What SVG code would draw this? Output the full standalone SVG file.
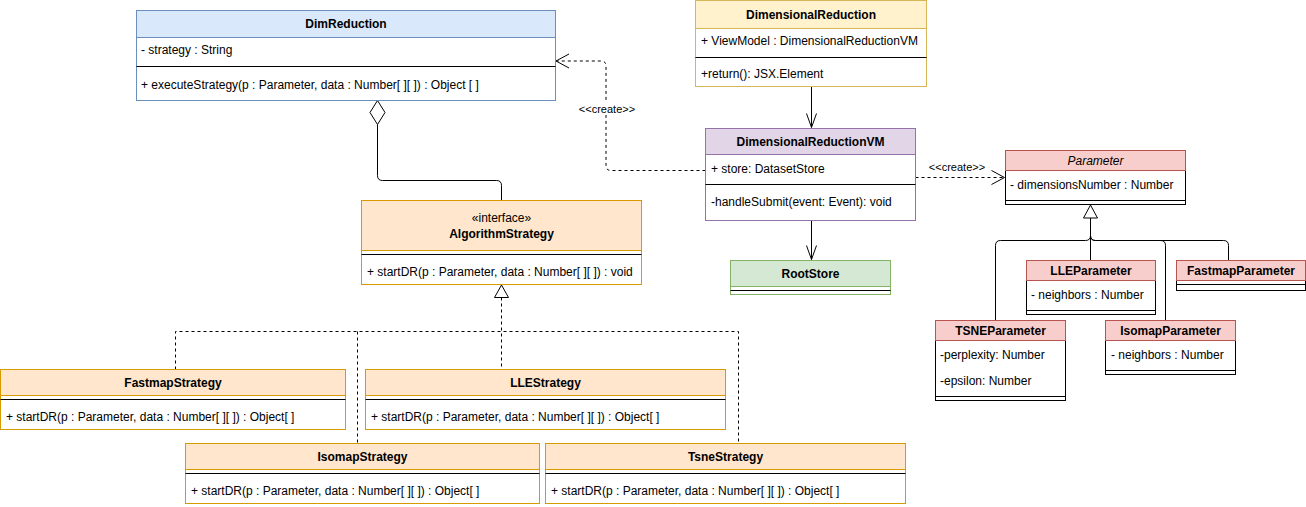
<svg xmlns="http://www.w3.org/2000/svg" width="1306" height="507" viewBox="0 0 1306 507">
  <style>
    text { font-family: "Liberation Sans", Arial, Helvetica, sans-serif; fill: #000; }
    .title { font-size: 12px; font-weight: bold; text-anchor: middle; }
    .abstract { font-size: 12px; font-style: italic; text-anchor: middle; }
    .stereo { font-size: 12px; text-anchor: middle; }
    .member { font-size: 12px; }
    .label { font-size: 11px; text-anchor: middle; }
    .body { fill: #fff; }
    .sep { stroke: #000; stroke-width: 1; }
    .edge { fill: none; stroke: #000; stroke-width: 1; }
    .dashed { stroke-dasharray: 3 3; }
    .blue { fill: #dae8fc; stroke: #6c8ebf; }
    .blue-b { fill: #fff; stroke: #6c8ebf; }
    .yellow { fill: #fff2cc; stroke: #d6b656; }
    .yellow-b { fill: #fff; stroke: #d6b656; }
    .purple { fill: #e1d5e7; stroke: #9673a6; }
    .purple-b { fill: #fff; stroke: #9673a6; }
    .green { fill: #d5e8d4; stroke: #82b366; }
    .green-b { fill: #fff; stroke: #82b366; }
    .red { fill: #f8cecc; stroke: #b85450; }
    .red-b { fill: #fff; stroke: #000; }
    .orange { fill: #ffe6cc; stroke: #d79b00; }
    .orange-b { fill: #fff; stroke: #d79b00; }
  </style>
  <defs>
    <marker id="open" viewBox="-15 -7 16 14" refX="0" refY="0" markerWidth="16" markerHeight="14" orient="auto" markerUnits="userSpaceOnUse">
      <path d="M-14,-5 L0,0 L-14,5" fill="none" stroke="#000" stroke-width="1"/>
    </marker>
    <marker id="create" viewBox="-15 -8 16 16" refX="0" refY="0" markerWidth="16" markerHeight="16" orient="auto" markerUnits="userSpaceOnUse">
      <path d="M-13,-7 L0,0 L-13,7" fill="none" stroke="#000" stroke-width="1"/>
    </marker>
  </defs>

  <!-- connectors -->
  <g id="connectors">
    <!-- aggregation DimReduction <>- AlgorithmStrategy -->
    <polygon points="377.5,100.5 385,112.5 377.5,124.5 370,112.5" fill="#fff" stroke="#000"/>
    <path class="edge" d="M377.5,124.5 V175.5 Q377.5,180.5 382.5,180.5 H496.5 Q501.5,180.5 501.5,185.5 V200.5"/>

    <!-- navigation -->
    <path class="edge" d="M811.5,86.5 V127.5" marker-end="url(#open)"/>
    <path class="edge" d="M811.5,220.5 V259.5" marker-end="url(#open)"/>

    <!-- create dependencies -->
    <path class="edge dashed" d="M705.5,170.5 H611 Q606,170.5 606,165.5 V66 Q606,61 601,61 H556" marker-end="url(#create)"/>
    <rect x="579" y="102" width="56" height="13" fill="#fff"/>
    <text class="label" x="607" y="113">&lt;&lt;create&gt;&gt;</text>
    <path class="edge dashed" d="M915.5,177.5 H1004.5" marker-end="url(#create)"/>
    <text class="label" x="957" y="171">&lt;&lt;create&gt;&gt;</text>

    <!-- Parameter generalization -->
    <path class="edge" d="M995.5,320.5 V245.5 Q995.5,240.5 1000.5,240.5 H1085.5 Q1090.5,240.5 1090.5,235.5 V218"/>
    <path class="edge" d="M1090.5,260.5 V218"/>
    <path class="edge" d="M1165.5,320.5 V245.5 Q1165.5,240.5 1160.5,240.5 H1095.5 Q1090.5,240.5 1090.5,235.5"/>
    <path class="edge" d="M1228.5,260.5 V245.5 Q1228.5,240.5 1223.5,240.5 H1095.5 Q1090.5,240.5 1090.5,235.5"/>
    <polygon points="1090.5,205 1083.5,218 1097.5,218" fill="#fff" stroke="#000"/>

    <!-- AlgorithmStrategy realization -->
    <path class="edge dashed" d="M501.5,297.5 V369.5"/>
    <path class="edge dashed" d="M175.5,369.5 V331.5 H738.5 V443.5"/>
    <path class="edge dashed" d="M357.5,331.5 V443.5"/>
    <polygon points="501.5,285 494.5,297.5 508.5,297.5" fill="#fff" stroke="#000"/>
  </g>

  <!-- DimReduction -->
  <g id="DimReduction">
    <rect class="blue-b" x="136.5" y="10.5" width="419" height="90"/>
    <rect class="blue" x="136.5" y="10.5" width="419" height="27"/>
    <text class="title" x="346" y="28">DimReduction</text>
    <text class="member" x="141" y="54">- strategy : String</text>
    <line class="sep" x1="136.5" y1="66.5" x2="555.5" y2="66.5"/>
    <text class="member" x="141" y="89">+ executeStrategy(p : Parameter, data : Number[ ][ ]) : Object [ ]</text>
  </g>

  <!-- DimensionalReduction -->
  <g id="DimensionalReduction">
    <rect class="yellow-b" x="695.5" y="0.5" width="231" height="86"/>
    <rect class="yellow" x="695.5" y="0.5" width="231" height="28"/>
    <text class="title" x="811" y="18.5">DimensionalReduction</text>
    <text class="member" x="701" y="44.5">+ ViewModel : DimensionalReductionVM</text>
    <line class="sep" x1="695.5" y1="57.5" x2="926.5" y2="57.5"/>
    <text class="member" x="701" y="77.5">+return(): JSX.Element</text>
  </g>

  <!-- DimensionalReductionVM -->
  <g id="DimensionalReductionVM">
    <rect class="purple-b" x="705.5" y="128.5" width="210" height="92"/>
    <rect class="purple" x="705.5" y="128.5" width="210" height="26"/>
    <text class="title" x="810.5" y="146">DimensionalReductionVM</text>
    <text class="member" x="711" y="172.5">+ store: DatasetStore</text>
    <line class="sep" x1="705.5" y1="184.5" x2="915.5" y2="184.5"/>
    <text class="member" x="711" y="205.5">-handleSubmit(event: Event): void</text>
  </g>

  <!-- RootStore -->
  <g id="RootStore">
    <rect class="green-b" x="730.5" y="260.5" width="160" height="34"/>
    <rect class="green" x="730.5" y="260.5" width="160" height="26"/>
    <text class="title" x="810.5" y="278">RootStore</text>
    <line class="sep" x1="730.5" y1="290.5" x2="890.5" y2="290.5"/>
  </g>

  <!-- Parameter -->
  <g id="Parameter">
    <rect class="red-b" x="1005.5" y="150.5" width="180" height="54"/>
    <rect class="red" x="1005.5" y="150.5" width="180" height="20"/>
    <text class="abstract" x="1095.5" y="165">Parameter</text>
    <text class="member" x="1010" y="188.5">- dimensionsNumber : Number</text>
    <line class="sep" x1="1005.5" y1="200.5" x2="1185.5" y2="200.5"/>
  </g>

  <!-- LLEParameter -->
  <g id="LLEParameter">
    <rect class="red-b" x="1026.5" y="260.5" width="129" height="54"/>
    <rect class="red" x="1026.5" y="260.5" width="129" height="20"/>
    <text class="title" x="1091" y="275">LLEParameter</text>
    <text class="member" x="1031" y="298.5">- neighbors : Number</text>
    <line class="sep" x1="1026.5" y1="310.5" x2="1155.5" y2="310.5"/>
  </g>

  <!-- FastmapParameter -->
  <g id="FastmapParameter">
    <rect class="red-b" x="1176.5" y="260.5" width="129" height="30"/>
    <rect class="red" x="1176.5" y="260.5" width="129" height="20"/>
    <text class="title" x="1241" y="275">FastmapParameter</text>
    <line class="sep" x1="1176.5" y1="284.5" x2="1305.5" y2="284.5"/>
  </g>

  <!-- TSNEParameter -->
  <g id="TSNEParameter">
    <rect class="red-b" x="935.5" y="320.5" width="130" height="80"/>
    <rect class="red" x="935.5" y="320.5" width="130" height="20"/>
    <text class="title" x="1000.5" y="335">TSNEParameter</text>
    <text class="member" x="940" y="358.5">-perplexity: Number</text>
    <text class="member" x="940" y="384.5">-epsilon: Number</text>
    <line class="sep" x1="935.5" y1="396.5" x2="1065.5" y2="396.5"/>
  </g>

  <!-- IsomapParameter -->
  <g id="IsomapParameter">
    <rect class="red-b" x="1105.5" y="320.5" width="130" height="54"/>
    <rect class="red" x="1105.5" y="320.5" width="130" height="20"/>
    <text class="title" x="1170.5" y="335">IsomapParameter</text>
    <text class="member" x="1111" y="358.5">- neighbors : Number</text>
    <line class="sep" x1="1105.5" y1="370.5" x2="1235.5" y2="370.5"/>
  </g>

  <!-- AlgorithmStrategy -->
  <g id="AlgorithmStrategy">
    <rect class="orange-b" x="361.5" y="200.5" width="280" height="84"/>
    <rect class="orange" x="361.5" y="200.5" width="280" height="50"/>
    <text class="stereo" x="501.5" y="222">«interface»</text>
    <text class="title" x="501.5" y="237.5">AlgorithmStrategy</text>
    <line class="sep" x1="361.5" y1="254.5" x2="641.5" y2="254.5"/>
    <text class="member" x="367" y="275.5">+ startDR(p : Parameter, data : Number[ ][ ]) : void</text>
  </g>

  <!-- FastmapStrategy -->
  <g id="FastmapStrategy">
    <rect class="orange-b" x="0.5" y="369.5" width="345" height="60"/>
    <rect class="orange" x="0.5" y="369.5" width="345" height="26"/>
    <text class="title" x="173" y="387">FastmapStrategy</text>
    <line class="sep" x1="0.5" y1="399.5" x2="345.5" y2="399.5"/>
    <text class="member" x="6" y="421">+ startDR(p : Parameter, data : Number[ ][ ]) : Object[ ]</text>
  </g>

  <!-- LLEStrategy -->
  <g id="LLEStrategy">
    <rect class="orange-b" x="365.5" y="369.5" width="360" height="60"/>
    <rect class="orange" x="365.5" y="369.5" width="360" height="26"/>
    <text class="title" x="545.5" y="387">LLEStrategy</text>
    <line class="sep" x1="365.5" y1="399.5" x2="725.5" y2="399.5"/>
    <text class="member" x="371" y="421">+ startDR(p : Parameter, data : Number[ ][ ]) : Object[ ]</text>
  </g>

  <!-- IsomapStrategy -->
  <g id="IsomapStrategy">
    <rect class="orange-b" x="185.5" y="443.5" width="354" height="60"/>
    <rect class="orange" x="185.5" y="443.5" width="354" height="26"/>
    <text class="title" x="362.5" y="461">IsomapStrategy</text>
    <line class="sep" x1="185.5" y1="473.5" x2="539.5" y2="473.5"/>
    <text class="member" x="191" y="495">+ startDR(p : Parameter, data : Number[ ][ ]) : Object[ ]</text>
  </g>

  <!-- TsneStrategy -->
  <g id="TsneStrategy">
    <rect class="orange-b" x="545.5" y="443.5" width="360" height="60"/>
    <rect class="orange" x="545.5" y="443.5" width="360" height="26"/>
    <text class="title" x="725.5" y="461">TsneStrategy</text>
    <line class="sep" x1="545.5" y1="473.5" x2="905.5" y2="473.5"/>
    <text class="member" x="551" y="495">+ startDR(p : Parameter, data : Number[ ][ ]) : Object[ ]</text>
  </g>
</svg>
